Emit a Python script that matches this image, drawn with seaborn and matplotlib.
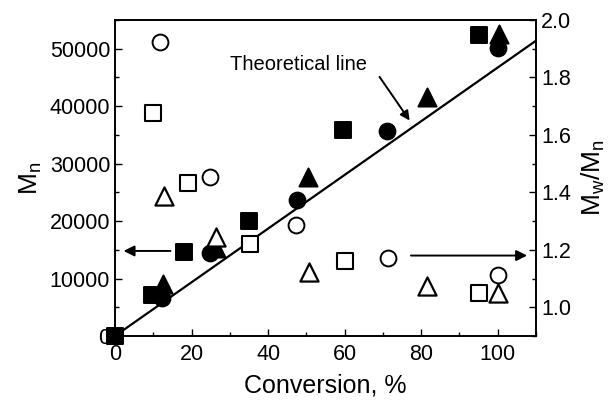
import matplotlib
matplotlib.use("Agg")
import matplotlib.pyplot as plt
from matplotlib.ticker import MultipleLocator, FormatStrFormatter
import seaborn as sns

# Mn vs conversion (filled symbols, left axis)
conv_sq = [0, 9.6, 18, 35, 59.5, 95]
mn_sq = [0, 7200, 14700, 20000, 35900, 52400]
conv_ci = [12.2, 24.8, 47.5, 71, 100]
mn_ci = [6600, 14400, 23700, 35600, 50100]
conv_tr = [12.6, 26.5, 50.5, 81.6, 100.2]
mn_tr = [9000, 15300, 27600, 41600, 52600]

# Mw/Mn vs conversion (open symbols, right axis)
pdi_conv_sq = [9.8, 19, 35.2, 60.2, 95]
pdi_sq = [1.675, 1.431, 1.22, 1.161, 1.051]
pdi_conv_ci = [11.7, 24.8, 47.4, 71.2, 100]
pdi_ci = [1.924, 1.455, 1.286, 1.173, 1.112]
pdi_conv_tr = [12.8, 26.4, 50.7, 81.6, 100]
pdi_tr = [1.388, 1.246, 1.124, 1.074, 1.051]

# theoretical line
theory_conv = [0, 110]
theory_mn = [0, 51400]

sns.set_style("ticks")
plt.rcParams['font.family'] = ['Liberation Sans', 'DejaVu Sans']
plt.rcParams['xtick.direction'] = 'in'
plt.rcParams['ytick.direction'] = 'in'
for k in ('text.color', 'axes.labelcolor', 'xtick.color', 'ytick.color', 'axes.edgecolor'):
    plt.rcParams[k] = 'black'

fig = plt.figure(figsize=(6.14, 4.03), dpi=100)
ax = fig.add_axes([0.1873, 0.1663, 0.873 - 0.1873, 0.9504 - 0.1663])
ax2 = ax.twinx()

sns.lineplot(x=theory_conv, y=theory_mn, ax=ax, color='black', lw=1.6)

kw = dict(s=130, linewidth=1.4, clip_on=False, zorder=5)
sns.scatterplot(x=conv_sq, y=mn_sq, ax=ax, marker='s', color='black', edgecolor='black', **kw)
sns.scatterplot(x=conv_ci, y=mn_ci, ax=ax, marker='o', color='black', edgecolor='black', **kw)
sns.scatterplot(x=conv_tr, y=mn_tr, ax=ax, marker='^', color='black', edgecolor='black',
                s=170, linewidth=1.4, clip_on=False, zorder=5)

sns.scatterplot(x=pdi_conv_sq, y=pdi_sq, ax=ax2, marker='s', facecolor='white', edgecolor='black',
                s=120, linewidth=1.5, clip_on=False, zorder=5)
sns.scatterplot(x=pdi_conv_ci, y=pdi_ci, ax=ax2, marker='o', facecolor='white', edgecolor='black', **kw)
sns.scatterplot(x=pdi_conv_tr, y=pdi_tr, ax=ax2, marker='^', facecolor='white', edgecolor='black',
                s=170, linewidth=1.6, clip_on=False, zorder=5)

ax.set_xlim(0, 110)
ax.set_ylim(0, 55000)
ax2.set_ylim(0.9, 2.0)

ax.xaxis.set_major_locator(MultipleLocator(20))
ax.xaxis.set_minor_locator(MultipleLocator(10))
ax.yaxis.set_major_locator(MultipleLocator(10000))
ax.yaxis.set_minor_locator(MultipleLocator(5000))
ax2.yaxis.set_major_locator(MultipleLocator(0.2))
ax2.yaxis.set_minor_locator(MultipleLocator(0.1))
ax2.yaxis.set_major_formatter(FormatStrFormatter('%.1f'))

for a in (ax, ax2):
    a.tick_params(which='major', length=5, width=1, labelsize=15.5, colors='black')
    a.tick_params(which='minor', length=3, width=1, colors='black')
    for sp in a.spines.values():
        sp.set_visible(True)
        sp.set_linewidth(1.2)
        sp.set_color('black')
ax.tick_params(top=False, which='both')
ax.tick_params(axis='x', pad=6)

ax.set_xlabel('Conversion, %', fontsize=18, labelpad=6)
ax.set_ylabel(r'M$_\mathregular{n}$', fontsize=19, labelpad=4)
ax2.set_ylabel(r'M$_\mathregular{w}$/M$_\mathregular{n}$', fontsize=19, labelpad=6)

# arrows pointing to the axes
ax.annotate('', xy=(1.5, 14800), xytext=(15.2, 14800),
            arrowprops=dict(arrowstyle='-|>', color='black', lw=1.4, mutation_scale=16))
ax2.annotate('', xy=(108.4, 1.18), xytext=(76.6, 1.18),
             arrowprops=dict(arrowstyle='-|>', color='black', lw=1.4, mutation_scale=16))
ax.annotate('', xy=(77.4, 37100), xytext=(68.7, 45500),
            arrowprops=dict(arrowstyle='-|>', color='black', lw=1.4, mutation_scale=14))
ax.text(48, 47200, 'Theoretical line', fontsize=14.5, ha='center', va='center')

fig.savefig('out.png', dpi=100)
